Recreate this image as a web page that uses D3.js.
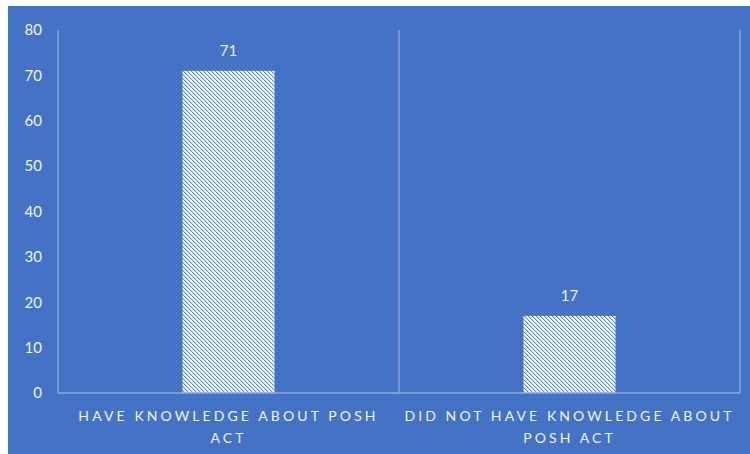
<!DOCTYPE html>
<html>
<head>
<meta charset="utf-8">
<script src="https://cdn.jsdelivr.net/npm/d3@7"></script>
<style>
  html, body { margin: 0; padding: 0; background: #ffffff; }
  svg { display: block; }
</style>
</head>
<body>
<svg id="chart" width="750" height="454"></svg>
<script>
// Survey responses: awareness of the POSH Act
const categories = ["HAVE KNOWLEDGE ABOUT POSH ACT", "DID NOT HAVE KNOWLEDGE ABOUT POSH ACT"];
const values = [71, 17];
const yTicks = [0, 10, 20, 30, 40, 50, 60, 70, 80];

const W = 750, H = 454;
const panel = { left: 8, top: 6, right: 750, bottom: 454 };
const margin = { left: 58, right: 10, top: 30, bottom: 61 };

const svg = d3.select("#chart");
const FONT = "Lato, 'Open Sans', 'Liberation Sans', sans-serif";
const BLUE = "#4472c4";
const TEXT = "#f2f5fb";
const LINE = "#8eaadc";

// Blue chart panel
svg.append("rect")
  .attr("x", panel.left).attr("y", panel.top)
  .attr("width", panel.right - panel.left).attr("height", panel.bottom - panel.top)
  .attr("fill", BLUE);

// Diagonal hatch fill for the bars
const defs = svg.append("defs");
const pat = defs.append("pattern")
  .attr("id", "hatch").attr("patternUnits", "userSpaceOnUse")
  .attr("width", 4).attr("height", 4);
pat.append("rect").attr("width", 4).attr("height", 4).attr("fill", "#ffffff");
for (let i = 0; i < 4; i++) {
  pat.append("rect").attr("x", i).attr("y", i).attr("width", 1).attr("height", 1)
    .attr("fill", "#5f87cf").attr("shape-rendering", "crispEdges");
  pat.append("rect").attr("x", (i + 1) % 4).attr("y", i).attr("width", 1).attr("height", 1)
    .attr("fill", "#c5d4ef").attr("shape-rendering", "crispEdges");
}

const x = d3.scaleBand()
  .domain(categories)
  .range([margin.left, W - margin.right])
  .paddingInner(0).paddingOuter(0);

const y = d3.scaleLinear()
  .domain([0, 80])
  .range([H - margin.bottom, margin.top]);

const barW = x.bandwidth() * 0.27;

// Vertical category separators (left axis, middle, right)
const sepXs = [x.range()[0]].concat(categories.map(c => x(c) + x.bandwidth()));
svg.append("g").selectAll("line").data(sepXs).join("line")
  .attr("x1", d => d).attr("x2", d => d)
  .attr("y1", y(80)).attr("y2", y(0))
  .attr("stroke", LINE).attr("stroke-width", 1.3);

// Bars
svg.append("g").selectAll("rect").data(values).join("rect")
  .attr("x", (d, i) => x(categories[i]) + x.bandwidth() / 2 - barW / 2)
  .attr("y", d => y(d))
  .attr("width", barW)
  .attr("height", d => y(0) - y(d))
  .attr("fill", "url(#hatch)");

// Baseline
svg.append("line")
  .attr("x1", x.range()[0]).attr("x2", x.range()[1])
  .attr("y1", y(0)).attr("y2", y(0))
  .attr("stroke", LINE).attr("stroke-width", 1.3);

// Y axis labels
const yAxis = d3.axisLeft(y).tickValues(yTicks).tickSize(0).tickPadding(16);
const gy = svg.append("g").attr("transform", `translate(${margin.left},0)`).call(yAxis);
gy.select(".domain").remove();
gy.selectAll("text")
  .attr("fill", TEXT).attr("font-family", FONT).attr("font-size", 15);

// Value labels
svg.append("g").selectAll("text").data(values).join("text")
  .attr("x", (d, i) => x(categories[i]) + x.bandwidth() / 2)
  .attr("y", d => y(d) - 15)
  .attr("text-anchor", "middle")
  .attr("fill", TEXT).attr("font-family", FONT).attr("font-size", 15)
  .text(d => d);

// Category labels, wrapped to band width
const lab = svg.append("g");
categories.forEach(cat => {
  const words = cat.split(" ");
  const cx = x(cat) + x.bandwidth() / 2;
  const t = lab.append("text")
    .attr("x", cx).attr("y", y(0) + 28)
    .attr("text-anchor", "middle")
    .attr("fill", TEXT).attr("font-family", FONT).attr("font-size", 14)
    .attr("letter-spacing", "3.1px");
  let line = [];
  let ts = t.append("tspan").attr("x", cx).attr("dy", 0);
  words.forEach(w => {
    line.push(w);
    ts.text(line.join(" "));
    if (ts.node().getComputedTextLength() > x.bandwidth() - 4 && line.length > 1) {
      line.pop();
      ts.text(line.join(" "));
      line = [w];
      ts = t.append("tspan").attr("x", cx).attr("dy", 22).text(w);
    }
  });
});
</script>
</body>
</html>
